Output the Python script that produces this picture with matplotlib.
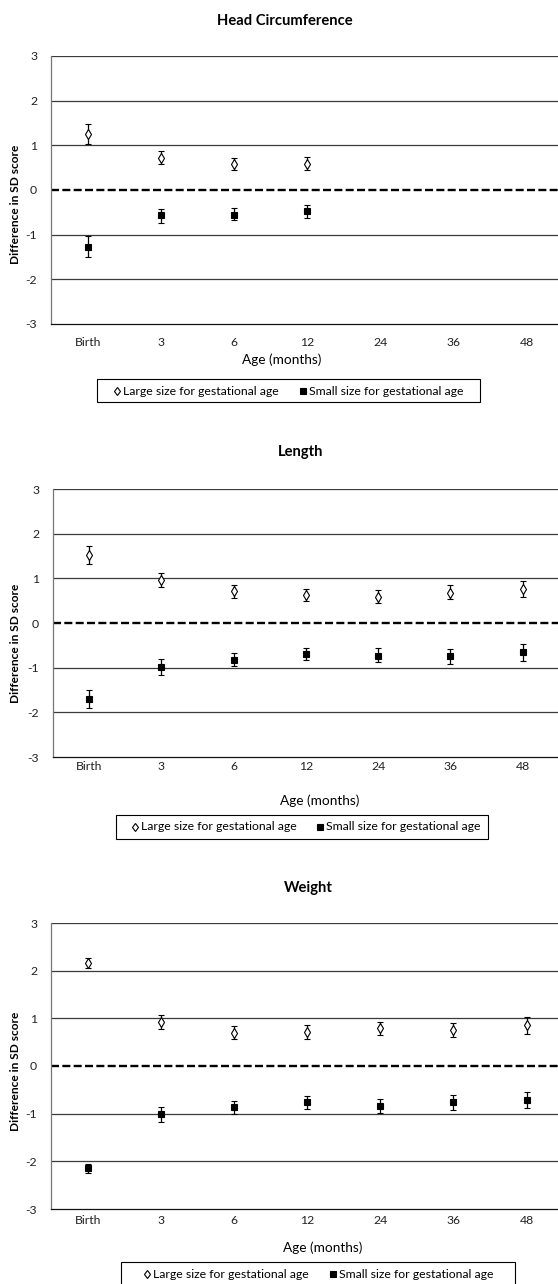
import numpy as np
import matplotlib
matplotlib.use("Agg")
import matplotlib.pyplot as plt
from matplotlib.lines import Line2D
from matplotlib.patches import Rectangle

plt.rcParams['font.family'] = ['Lato', 'DejaVu Sans']
plt.rcParams['axes.unicode_minus'] = False

ages = ["Birth", "3", "6", "12", "24", "36", "48"]
nan = np.nan

# Head circumference: difference in SD score with 95% CI
hc_large = [1.25, 0.72, 0.58, 0.59, nan, nan, nan]
hc_large_lo = [1.03, 0.58, 0.45, 0.45, nan, nan, nan]
hc_large_hi = [1.48, 0.87, 0.71, 0.73, nan, nan, nan]
hc_small = [-1.27, -0.57, -0.55, -0.48, nan, nan, nan]
hc_small_lo = [-1.50, -0.73, -0.68, -0.62, nan, nan, nan]
hc_small_hi = [-1.04, -0.42, -0.41, -0.34, nan, nan, nan]

# Length
len_large = [1.53, 0.97, 0.71, 0.62, 0.59, 0.68, 0.77]
len_large_lo = [1.33, 0.80, 0.57, 0.49, 0.44, 0.53, 0.59]
len_large_hi = [1.72, 1.13, 0.86, 0.76, 0.75, 0.85, 0.95]
len_small = [-1.70, -0.98, -0.82, -0.69, -0.73, -0.74, -0.66]
len_small_lo = [-1.90, -1.17, -0.97, -0.83, -0.88, -0.91, -0.84]
len_small_hi = [-1.51, -0.80, -0.67, -0.55, -0.57, -0.58, -0.48]

# Weight
wt_large = [2.16, 0.93, 0.69, 0.71, 0.79, 0.75, 0.85]
wt_large_lo = [2.05, 0.77, 0.56, 0.57, 0.64, 0.60, 0.67]
wt_large_hi = [2.26, 1.07, 0.83, 0.85, 0.93, 0.91, 1.02]
wt_small = [-2.15, -1.00, -0.86, -0.76, -0.83, -0.76, -0.71]
wt_small_lo = [-2.25, -1.17, -1.00, -0.90, -0.99, -0.92, -0.88]
wt_small_hi = [-2.05, -0.85, -0.73, -0.62, -0.69, -0.60, -0.55]

series_labels = ["Large size for gestational age",
                 "Small size for gestational age"]

W, H = 558, 1284
fig = plt.figure(figsize=(W / 100, H / 100), dpi=100)


def fx(px):
    return px / W


def fy(py):
    return 1 - py / H


panels = [
    dict(title="Head Circumference", title_xy=(285, 21),
         box=(51, 56, 324), xlim=(-0.5, 6.42), xpad=9.5,
         ylab_y=204, xlab_xy=(282, 360),
         legend_box=(97, 379, 480, 402), legend_marks=(117, 303),
         large=(hc_large, hc_large_lo, hc_large_hi),
         small=(hc_small, hc_small_lo, hc_small_hi)),
    dict(title="Length", title_xy=(301, 452),
         box=(53, 489, 757), xlim=(-0.5, 6.49), xpad=3,
         ylab_y=643, xlab_xy=(320, 801),
         legend_box=(116, 815, 488, 839), legend_marks=(135, 320),
         large=(len_large, len_large_lo, len_large_hi),
         small=(len_small, len_small_lo, len_small_hi)),
    dict(title="Weight", title_xy=(308, 888),
         box=(51, 923, 1209), xlim=(-0.5, 6.43), xpad=4,
         ylab_y=1071, xlab_xy=(323, 1248),
         legend_box=(121, 1262, 515, 1292), legend_marks=(147, 333),
         large=(wt_large, wt_large_lo, wt_large_hi),
         small=(wt_small, wt_small_lo, wt_small_hi)),
]

x = np.arange(len(ages))
styles = {"large": ("d", "white", 5.6), "small": ("s", "black", 4.6)}

for p in panels:
    left, top, bottom = p["box"]
    ax = fig.add_axes([fx(left), fy(bottom), 1 - fx(left), (bottom - top) / H])
    ax.set_xlim(*p["xlim"])
    ax.set_ylim(-3, 3)

    for g in [-2, -1, 1, 2, 3]:
        ax.axhline(g, color="#3a3a3a", lw=0.9, zorder=1)
    ax.axhline(0, color="black", lw=1.7, ls=(0, (3.4, 1.4)), zorder=2)

    for key in ["large", "small"]:
        marker, face, ms = styles[key]
        mean, lo, hi = (np.array(v, dtype=float) for v in p[key])
        yerr = np.vstack([mean - lo, hi - mean])
        ax.errorbar(x, mean, yerr=yerr, fmt=marker, mfc=face, mec="black",
                    mew=0.8, ms=ms, ecolor="black", elinewidth=0.9,
                    capsize=2.3, capthick=0.9, zorder=4)

    ax.set_xticks(x)
    ax.set_xticklabels(ages)
    ax.set_yticks([-3, -2, -1, 0, 1, 2, 3])
    ax.tick_params(axis="both", length=0, labelsize=8.8, colors="#222222")
    ax.tick_params(axis="y", pad=10)
    ax.tick_params(axis="x", pad=p["xpad"])
    for s in ["top", "right"]:
        ax.spines[s].set_visible(False)
    ax.spines["left"].set_color("#777777")
    ax.spines["left"].set_linewidth(0.9)
    ax.spines["bottom"].set_color("#111111")
    ax.spines["bottom"].set_linewidth(0.9)

    fig.text(fx(p["title_xy"][0]), fy(p["title_xy"][1]), p["title"],
             ha="center", va="center", fontsize=10.6, fontweight="bold")
    fig.text(fx(16), fy(p["ylab_y"]), "Difference in SD score", rotation=90,
             ha="center", va="center", fontsize=8.6, fontweight="bold")
    fig.text(fx(p["xlab_xy"][0]), fy(p["xlab_xy"][1]), "Age (months)",
             ha="center", va="center", fontsize=9.8)

    # Legend drawn as a framed box with marker keys and labels
    bx0, by0, bx1, by1 = p["legend_box"]
    fig.patches.append(Rectangle((fx(bx0), fy(by1)), fx(bx1 - bx0),
                                 (by1 - by0) / H, transform=fig.transFigure,
                                 fill=False, edgecolor="black", lw=0.8))
    yc = fy(by0 + 12)
    for mx, key, label in zip(p["legend_marks"], ["large", "small"],
                              series_labels):
        marker, face, ms = styles[key]
        fig.add_artist(Line2D([fx(mx)], [yc], ls="none", marker=marker,
                              mfc=face, mec="black", mew=0.8,
                              ms=ms * 0.8, transform=fig.transFigure))
        fig.text(fx(mx + 6), yc, label, ha="left", va="center", fontsize=8.8)

fig.savefig("out.png", dpi=100, facecolor="white")
